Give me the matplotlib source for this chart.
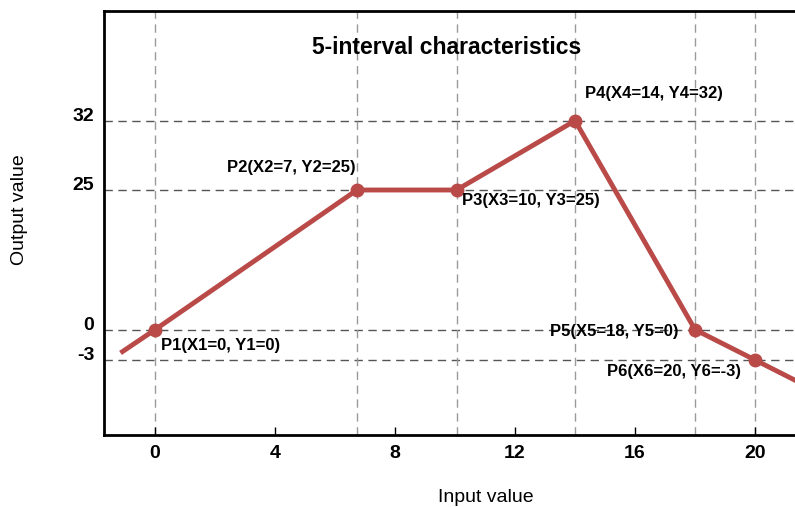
import numpy as np
import matplotlib
matplotlib.use("Agg")
import matplotlib.pyplot as plt

plt.rcParams['font.family'] = ['Liberation Sans', 'DejaVu Sans']

# data (positions)
x_line = [-1.15, 0, 6.73, 10.05, 14, 18, 20, 21.6]
y_line = [-2.3, 0, 25, 25, 32, 0, -3, -5.4]
x_pts = [0, 6.73, 10.05, 14, 18, 20]
y_pts = [0, 25, 25, 32, 0, -3]
pt_labels = ["P1(X1=0, Y1=0)", "P2(X2=7, Y2=25)", "P3(X3=10, Y3=25)",
             "P4(X4=14, Y4=32)", "P5(X5=18, Y5=0)", "P6(X6=20, Y6=-3)"]
x_ticks = [0, 4, 8, 12, 16, 20]
y_ticks = [-3, 0, 25, 32]

# piecewise-linear y scale (schematic axis)
yk = np.array([-10.4, -3, 0, 25, 32, 43.1])
uk = np.array([0, 75, 105.3, 245, 314.3, 424])

def fwd(y):
    y = np.asarray(y, dtype=float)
    out = np.interp(y, yk, uk)
    lo = y < yk[0]; hi = y > yk[-1]
    s0 = (uk[1]-uk[0])/(yk[1]-yk[0]); s1 = (uk[-1]-uk[-2])/(yk[-1]-yk[-2])
    out = np.where(lo, uk[0] + (y-yk[0])*s0, out)
    out = np.where(hi, uk[-1] + (y-yk[-1])*s1, out)
    return out

def inv(u):
    u = np.asarray(u, dtype=float)
    out = np.interp(u, uk, yk)
    lo = u < uk[0]; hi = u > uk[-1]
    s0 = (yk[1]-yk[0])/(uk[1]-uk[0]); s1 = (yk[-1]-yk[-2])/(uk[-1]-uk[-2])
    out = np.where(lo, yk[0] + (u-uk[0])*s0, out)
    out = np.where(hi, yk[-1] + (u-uk[-1])*s1, out)
    return out

fig = plt.figure(figsize=(7.95, 5.07), dpi=100)
ax = fig.add_axes([104/795, 72/507, 1 - 104/795, (435-11)/507])
ax.set_yscale('function', functions=(fwd, inv))
ax.set_xlim(-1.7, 21.33)
ax.set_ylim(yk[0], yk[-1])

col = '#b94a48'
for yv in y_ticks:
    ax.axhline(yv, color='#555555', lw=1.0, ls=(0, (6, 4)), zorder=1)
for xv in x_pts:
    ax.axvline(xv, color='#9a9a9a', lw=1.0, ls=(0, (6, 4)), zorder=1)

ax.plot(x_line, y_line, color=col, lw=3.5, solid_capstyle='butt', zorder=3)
ax.plot(x_pts, y_pts, 'o', color=col, ms=9, zorder=4)

ax.set_xticks(x_ticks)
ax.set_xticklabels([str(v) for v in x_ticks], fontweight='bold', fontsize=14)
ax.set_yticks(y_ticks)
ax.set_yticklabels([str(v) for v in y_ticks], fontweight='bold', fontsize=14)
for lbl in ax.get_yticklabels():
    lbl.set_verticalalignment('baseline')
ax.yaxis.set_minor_locator(matplotlib.ticker.NullLocator())
ax.tick_params(axis='x', direction='in', length=6, width=1, pad=7)
ax.tick_params(axis='y', length=0, pad=7)
for s in ['left', 'bottom', 'top']:
    ax.spines[s].set_linewidth(2)
ax.spines['right'].set_visible(False)

fig.text(486/795, 1 - 497/507, 'Input value', fontsize=14, ha='center', va='center')
fig.text(20/795, 1 - 210/507, 'Output value', fontsize=14, ha='center', va='center',
         rotation=90)

fig.text(447/795, 1 - 48/507, '5-interval characteristics', fontweight='bold',
         fontsize=16.5, ha='center', va='center')

# label offsets in points (dx, dy, ha, va)
offs = [(4, -6, 'left', 'top'), (-1, 11, 'right', 'bottom'), (4, -2.5, 'left', 'top'),
        (7, 14, 'left', 'bottom'), (-12, -1, 'right', 'center'), (-10, -3, 'right', 'top')]
for xv, yv, t, (dx, dy, ha, va) in zip(x_pts, y_pts, pt_labels, offs):
    ax.annotate(t, (xv, yv), xytext=(dx, dy), textcoords='offset points',
                ha=ha, va=va, fontsize=12, fontweight='bold', zorder=5)

fig.savefig('out.png', dpi=100)
